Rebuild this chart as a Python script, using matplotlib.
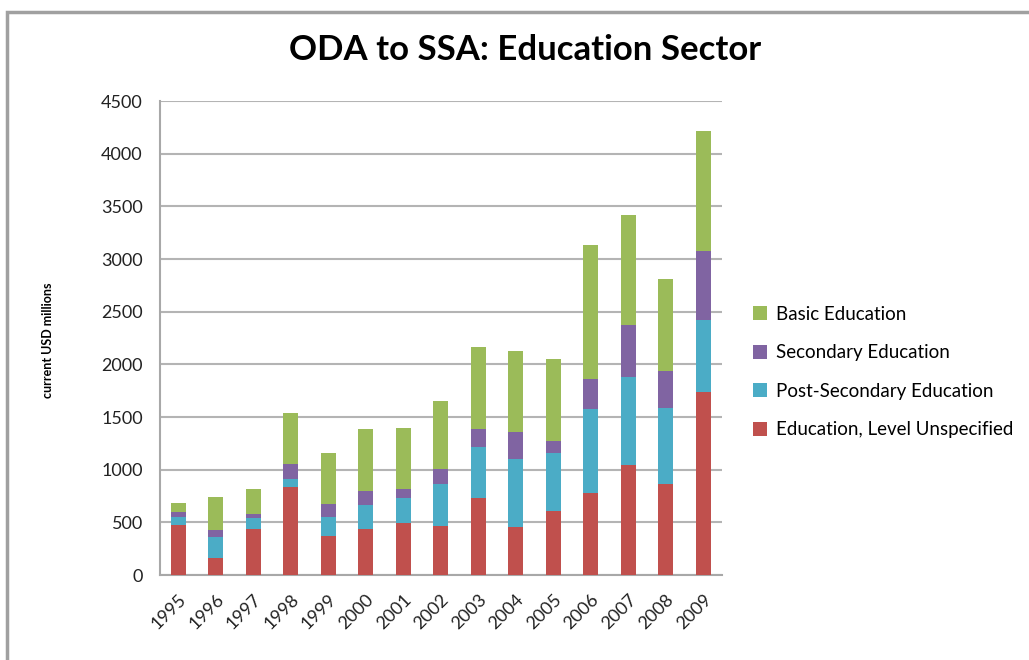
import numpy as np
import matplotlib.pyplot as plt
from matplotlib.patches import Rectangle

# Values (current USD millions)
years = ['1995', '1996', '1997', '1998', '1999', '2000', '2001', '2002',
         '2003', '2004', '2005', '2006', '2007', '2008', '2009']
unspecified = [475, 165, 433, 832, 373, 433, 497, 468, 728, 459, 611, 775, 1047, 861, 1734]
post_secondary = [79, 199, 111, 79, 181, 232, 231, 396, 490, 639, 544, 798, 836, 724, 687]
secondary = [47, 63, 32, 143, 120, 135, 85, 139, 171, 260, 114, 291, 490, 355, 658]
basic = [86, 317, 237, 481, 481, 583, 579, 652, 779, 766, 785, 1266, 1048, 867, 1139]

plt.rcParams['font.family'] = ['Lato', 'DejaVu Sans']

fig = plt.figure(figsize=(10.29, 6.6), dpi=100)
W, H = 1029, 660
ax = fig.add_axes([159.5 / W, 1 - 575 / H, (722 - 159.5) / W, (575 - 101) / H])

# outer frame of the chart area
fig.patches.append(Rectangle((7 / W, -0.05), 1.1, (660 - 12) / H + 0.05,
                             transform=fig.transFigure, fill=False,
                             edgecolor='#a0a0a0', linewidth=2.5))

x = np.arange(len(years))
w = 0.4
series = [
    ('Education, Level Unspecified', unspecified, '#C0504D'),
    ('Post-Secondary Education', post_secondary, '#4BACC6'),
    ('Secondary Education', secondary, '#8064A2'),
    ('Basic Education', basic, '#9BBB59'),
]
bottom = np.zeros(len(years))
handles = []
for name, vals, col in series:
    b = ax.bar(x, vals, w, bottom=bottom, color=col, label=name, zorder=3)
    handles.append(b)
    bottom += np.array(vals)

ax.set_xlim(-0.5, len(years) - 0.5)
ax.set_ylim(0, 4500)
ax.set_yticks(np.arange(0, 4501, 500))
ax.set_xticks(x)
ax.set_xticklabels(years, rotation=45, ha='right', rotation_mode='anchor')
ax.tick_params(axis='both', length=0, labelsize=13, colors='#222222')
ax.tick_params(axis='y', pad=12)
ax.tick_params(axis='x', pad=12)
ax.grid(axis='y', color='#b4b4b4', linewidth=1.5, zorder=0)
ax.set_axisbelow(True)
for s in ['top', 'right']:
    ax.spines[s].set_visible(False)
for s in ['left', 'bottom']:
    ax.spines[s].set_color('#a8a8a8')
    ax.spines[s].set_linewidth(1.5)

fig.text(48 / W, 1 - 340 / H, 'current USD millions', rotation=90,
         ha='center', va='center', fontsize=9, fontweight='bold')
fig.text(525 / W, 1 - 50 / H, 'ODA to SSA: Education Sector', ha='center',
         va='center', fontsize=25, fontweight='bold')

leg = fig.legend(handles[::-1], [s[0] for s in series][::-1],
                 loc='center left', bbox_to_anchor=(736 / W, 1 - 372 / H),
                 frameon=False, fontsize=13.5, handlelength=0.75,
                 handleheight=0.75, labelspacing=1.15, handletextpad=0.5)

fig.savefig('out.png', dpi=100)
